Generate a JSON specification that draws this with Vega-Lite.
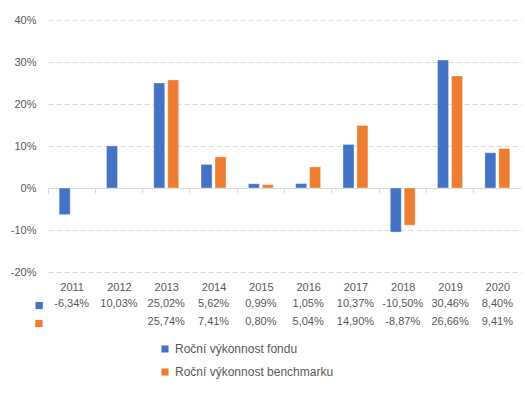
{
  "$schema": "https://vega.github.io/schema/vega-lite/v6.json",
  "padding": {"top": 14, "left": 10, "right": 5, "bottom": 5},
  "config": {
    "view": {"stroke": null},
    "font": "Liberation Sans",
    "locale": {"number": {"decimal": ",", "thousands": " ", "grouping": [3], "currency": ["", " Kč"], "minus": "-"}},
    "axis": {"labelColor": "#595959", "labelFontSize": 11}
  },
  "data": {"values": [
    {"year": "2011", "series": "Roční výkonnost fondu", "value": -0.0634},
    {"year": "2012", "series": "Roční výkonnost fondu", "value": 0.1003},
    {"year": "2013", "series": "Roční výkonnost fondu", "value": 0.2502},
    {"year": "2014", "series": "Roční výkonnost fondu", "value": 0.0562},
    {"year": "2015", "series": "Roční výkonnost fondu", "value": 0.0099},
    {"year": "2016", "series": "Roční výkonnost fondu", "value": 0.0105},
    {"year": "2017", "series": "Roční výkonnost fondu", "value": 0.1037},
    {"year": "2018", "series": "Roční výkonnost fondu", "value": -0.1050},
    {"year": "2019", "series": "Roční výkonnost fondu", "value": 0.3046},
    {"year": "2020", "series": "Roční výkonnost fondu", "value": 0.0840},
    {"year": "2013", "series": "Roční výkonnost benchmarku", "value": 0.2574},
    {"year": "2014", "series": "Roční výkonnost benchmarku", "value": 0.0741},
    {"year": "2015", "series": "Roční výkonnost benchmarku", "value": 0.0080},
    {"year": "2016", "series": "Roční výkonnost benchmarku", "value": 0.0504},
    {"year": "2017", "series": "Roční výkonnost benchmarku", "value": 0.1490},
    {"year": "2018", "series": "Roční výkonnost benchmarku", "value": -0.0887},
    {"year": "2019", "series": "Roční výkonnost benchmarku", "value": 0.2666},
    {"year": "2020", "series": "Roční výkonnost benchmarku", "value": 0.0941}
  ]},
  "bounds": "flush",
  "spacing": 23,
  "vconcat": [
    {
      "width": 473,
      "height": 252,
      "mark": {"type": "bar", "stroke": "#ffffff", "strokeOpacity": 0.35, "strokeWidth": 1},
      "encoding": {
        "x": {
          "field": "year", "type": "nominal", "title": null,
          "scale": {"paddingInner": 0, "paddingOuter": 0},
          "axis": {"orient": "bottom", "offset": -84, "labels": false, "domainColor": "#d9d9d9", "tickColor": "#d9d9d9", "tickSize": 5, "bandPosition": 0, "grid": false}
        },
        "xOffset": {
          "field": "series", "type": "nominal",
          "sort": ["Roční výkonnost fondu", "Roční výkonnost benchmarku"],
          "scale": {"paddingInner": 0.21, "paddingOuter": 0.8}
        },
        "y": {
          "field": "value", "type": "quantitative", "title": null,
          "scale": {"domain": [-0.2, 0.4], "nice": false},
          "axis": {"values": [-0.2, -0.1, 0, 0.1, 0.2, 0.3, 0.4], "format": ".0%", "domain": false, "ticks": false, "labelPadding": 12, "gridColor": "#d9d9d9", "gridDash": [5, 3]}
        },
        "color": {
          "field": "series", "type": "nominal",
          "sort": ["Roční výkonnost fondu", "Roční výkonnost benchmarku"],
          "scale": {"domain": ["Roční výkonnost fondu", "Roční výkonnost benchmarku"], "range": ["#4472C4", "#ED7D31"]},
          "legend": {"orient": "none", "legendX": 111, "legendY": 323, "direction": "vertical", "title": null, "symbolType": "square", "symbolSize": 50, "labelFontSize": 12, "labelColor": "#595959", "rowPadding": 11, "symbolStrokeWidth": 0}
        }
      }
    },
    {
      "width": 473,
      "height": 36,
      "mark": {"type": "text", "fontSize": 11, "color": "#595959"},
      "encoding": {
        "x": {
          "field": "year", "type": "nominal", "title": null,
          "scale": {"paddingInner": 0, "paddingOuter": 0},
          "axis": {"orient": "top", "domain": false, "ticks": false, "labelPadding": 3, "labelAngle": 0}
        },
        "y": {
          "field": "series", "type": "nominal", "title": null,
          "sort": ["Roční výkonnost fondu", "Roční výkonnost benchmarku"],
          "scale": {"paddingInner": 0, "paddingOuter": 0},
          "axis": {"domain": false, "ticks": false, "labelExpr": "'■'", "labelColor": {"condition": {"test": "datum.value === 'Roční výkonnost fondu'", "value": "#4472C4"}, "value": "#ED7D31"}, "labelPadding": 5, "labelFontSize": 15}
        },
        "text": {"field": "value", "type": "quantitative", "format": ".2%"}
      }
    }
  ]
}
